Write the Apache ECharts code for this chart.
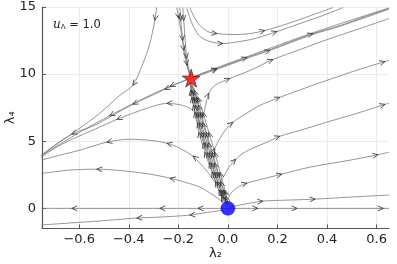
<!DOCTYPE html>
<html><head><meta charset="utf-8">
<script src="https://cdn.jsdelivr.net/npm/echarts@6/dist/echarts.min.js"></script>
<style>html,body{margin:0;padding:0;background:#fff}#c{width:397px;height:264px}</style>
</head><body><div id="c"></div>
<script>
// ---- axis ticks ----
const xTicks = [-0.6, -0.4, -0.2, 0, 0.2, 0.4, 0.6];
const yTicks = [0, 5, 10, 15];
// ---- fixed points ----
const saddle = [-0.148, 9.7];
const source = [0, 0];
// ---- streamlines (points in flow order) and arrow positions (point indices) ----
const lineA = [[-0.287,14.96],[-0.295,14.0],[-0.315,12.27],[-0.343,10.79],[-0.384,9.16],[-0.436,8.42],[-0.517,7.08],[-0.610,5.81],[-0.679,4.93],[-0.752,3.96]];
const arrA = [1, 4];
const lineB1 = [[-0.15,9.7],[-0.202,9.31],[-0.255,8.86],[-0.315,8.34],[-0.384,7.75],[-0.457,7.01],[-0.537,6.19],[-0.630,5.52],[-0.699,4.70],[-0.752,3.96]];
const arrB1 = [2, 4, 7];
const lineB2 = [[-0.15,9.68],[-0.234,9.09],[-0.356,8.05],[-0.477,6.90],[-0.598,5.67],[-0.752,3.93]];
const arrB2 = [1, 3];
const lineL3 = [[-0.113,6.41],[-0.141,7.30],[-0.182,7.67],[-0.246,7.82],[-0.315,7.53],[-0.384,7.08],[-0.448,6.63],[-0.537,5.89],[-0.638,5.07],[-0.699,4.48],[-0.752,3.81]];
const arrL3 = [3, 6];
const lineL2 = [[-0.044,1.73],[-0.081,2.70],[-0.113,3.37],[-0.141,3.89],[-0.194,4.48],[-0.246,4.85],[-0.315,5.07],[-0.396,5.15],[-0.489,4.93],[-0.598,4.33],[-0.679,3.96],[-0.752,3.59]];
const arrL2 = [3, 5, 8];
const lineL1 = [[-0.016,0.39],[-0.053,0.91],[-0.113,1.58],[-0.174,1.95],[-0.234,2.25],[-0.315,2.55],[-0.408,2.77],[-0.529,2.92],[-0.638,2.85],[-0.752,2.60]];
const arrL1 = [4, 7];
const lineL0 = [[0,0],[-0.06,0],[-0.121,0],[-0.2,0],[-0.275,0],[-0.4,0],[-0.5,0],[-0.63,0],[-0.752,0]];
const arrL0 = [2, 4, 7];
const lineLb = [[-0.016,-0.13],[-0.073,-0.27],[-0.154,-0.50],[-0.275,-0.65],[-0.368,-0.72],[-0.517,-0.94],[-0.638,-1.09],[-0.752,-1.24]];
const arrLb = [2, 4];
const lineR0 = [[0,0],[0.06,0],[0.121,0],[0.2,0],[0.279,0],[0.4,0],[0.5,0],[0.627,0],[0.65,0]];
const arrR0 = [2, 4, 7];
const lineR1 = [[0.008,0.10],[0.069,0.32],[0.141,0.54],[0.251,0.62],[0.352,0.69],[0.493,0.84],[0.65,0.99]];
const arrR1 = [2, 4];
const lineR2 = [[0,0.69],[0.016,1.21],[0.048,1.66],[0.077,1.88],[0.170,2.33],[0.218,2.55],[0.331,3.07],[0.493,3.59],[0.606,4.0],[0.65,4.18]];
const arrR2 = [3, 5, 8];
const lineR3 = [[-0.036,1.81],[-0.016,2.40],[0.004,3.07],[0.032,3.66],[0.061,4.11],[0.109,4.55],[0.158,4.93],[0.210,5.37],[0.291,5.81],[0.412,6.49],[0.533,7.15],[0.634,7.75],[0.65,7.82]];
const arrR3 = [3, 7, 11];
const lineR4 = [[-0.073,3.59],[-0.053,4.48],[-0.032,5.22],[-0.008,5.89],[0.020,6.41],[0.069,7.01],[0.129,7.67],[0.210,8.27],[0.331,9.09],[0.505,10.20],[0.634,10.94],[0.65,11.02]];
const arrR4 = [1, 4, 7, 10];
const lineR5 = [[-0.101,6.71],[-0.089,7.75],[-0.077,8.57],[-0.053,9.16],[0.008,9.68],[0.089,10.27],[0.182,11.09],[0.291,11.83],[0.412,12.65],[0.533,13.40],[0.65,14.14]];
const arrR5 = [2, 4, 6];
const lineD1 = [[-0.15,9.7],[-0.113,9.98],[-0.044,10.42],[0.077,11.24],[0.170,11.83],[0.343,13.02],[0.453,13.62],[0.554,14.29],[0.65,14.88]];
const arrD1 = [2, 3, 5];
const lineD2 = [[-0.15,9.68],[-0.113,9.92],[-0.044,10.36],[0.077,11.18],[0.170,11.77],[0.343,12.96],[0.453,13.57],[0.65,14.84]];
const arrD2 = [2, 4];
const lineD3 = [[-0.15,9.72],[-0.044,10.48],[0.077,11.30],[0.343,13.08],[0.65,14.93]];
const arrD3 = [];
const lineU1 = [[-0.154,14.96],[-0.137,14.29],[-0.113,13.62],[-0.081,13.17],[-0.044,13.02],[0.020,12.95],[0.089,13.02],[0.149,13.25],[0.230,13.69],[0.311,14.21],[0.424,14.96]];
const arrU1 = [4, 7];
const lineU2 = [[-0.166,14.96],[-0.154,14.21],[-0.137,13.47],[-0.113,12.80],[-0.073,12.43],[-0.020,12.28],[0.048,12.43],[0.109,12.65],[0.198,13.17],[0.291,13.77],[0.372,14.29],[0.465,14.96]];
const arrU2 = [5, 8];
const lineT1 = [[-0.206,14.96],[-0.198,14.14],[-0.186,12.88],[-0.178,11.76],[-0.166,10.65],[-0.15,9.75]];
const arrT1 = [1, 3];
const lineT2 = [[-0.194,14.96],[-0.190,13.99],[-0.182,12.50],[-0.174,11.76],[-0.164,10.65],[-0.15,9.75]];
const arrT2 = [1, 2, 4];
const lineT3 = [[-0.182,14.96],[-0.178,13.99],[-0.172,12.50],[-0.166,11.17],[-0.15,9.8]];
const arrT3 = [1, 3];
const lineC1 = [[-0.006,0.39],[-0.036,1.36],[-0.064,2.70],[-0.093,4.18],[-0.117,5.67],[-0.133,7.15],[-0.145,8.27],[-0.152,9.4]];
const lineC2 = [[-0.005,0.39],[-0.030,1.36],[-0.056,2.70],[-0.083,4.18],[-0.107,5.67],[-0.125,7.15],[-0.139,8.27],[-0.151,9.35]];
const lineC3 = [[-0.004,0.39],[-0.024,1.36],[-0.048,2.70],[-0.073,4.18],[-0.097,5.67],[-0.117,7.15],[-0.133,8.27],[-0.150,9.31]];
const lineC4 = [[-0.002,0.39],[-0.018,1.36],[-0.040,2.70],[-0.063,4.18],[-0.087,5.67],[-0.109,7.15],[-0.127,8.27],[-0.148,9.3]];
const lineC5 = [[0,0.39],[-0.012,1.36],[-0.032,2.70],[-0.053,4.18],[-0.077,5.67],[-0.101,7.15],[-0.121,8.27],[-0.146,9.25]];
const arrC = [1, 2, 3, 4, 5, 6];
const lineC6 = [[-0.003,0.3],[-0.020,0.9],[-0.041,2.0],[-0.066,3.4],[-0.091,4.9],[-0.113,6.4],[-0.131,7.7],[-0.146,8.8],[-0.151,9.4]];
const lineC7 = [[0,0.3],[-0.008,0.9],[-0.029,2.0],[-0.054,3.4],[-0.079,4.9],[-0.101,6.4],[-0.119,7.7],[-0.136,8.8],[-0.148,9.3]];
const lineC8 = [[-0.004,0.3],[-0.026,0.9],[-0.049,2.0],[-0.074,3.4],[-0.099,4.9],[-0.121,6.4],[-0.139,7.7],[-0.150,8.8],[-0.152,9.45]];
const arrC2 = [1, 2, 3, 4, 5, 6, 7];

const streams = [
  [lineA, arrA], [lineB1, arrB1], [lineB2, arrB2], [lineL3, arrL3], [lineL2, arrL2],
  [lineL1, arrL1], [lineL0, arrL0], [lineLb, arrLb], [lineR0, arrR0], [lineR1, arrR1],
  [lineR2, arrR2], [lineR3, arrR3], [lineR4, arrR4], [lineR5, arrR5], [lineD1, arrD1],
  [lineD2, arrD2], [lineD3, arrD3], [lineU1, arrU1], [lineU2, arrU2], [lineT1, arrT1],
  [lineT2, arrT2], [lineT3, arrT3], [lineC1, arrC], [lineC2, arrC], [lineC3, arrC],
  [lineC4, arrC], [lineC5, arrC], [lineC6, arrC2], [lineC7, arrC2], [lineC8, arrC2]
];

const arrowData = [];
streams.forEach(([pts, idx]) => {
  idx.forEach(i => {
    const a = pts[Math.max(i - 1, 0)], b = pts[Math.min(i + 1, pts.length - 1)];
    arrowData.push([pts[i][0], pts[i][1], a[0], a[1], b[0], b[1]]);
  });
});

const chart = echarts.init(document.getElementById('c'), null, {renderer: 'canvas'});
const axisColor = '#555';
const fmtX = v => (v < 0 ? '\u2212' : '') + Math.abs(v).toFixed(1);

const series = streams.map(([pts]) => ({
  type: 'line', data: pts, smooth: 0.3, symbol: 'none', silent: true,
  lineStyle: {color: '#7a7a7a', width: 0.8}, z: 2
}));
series.push({
  type: 'custom', data: arrowData, encode: {x: 0, y: 1}, z: 3, silent: true,
  renderItem: (params, api) => {
    const p = api.coord([api.value(0), api.value(1)]);
    const a = api.coord([api.value(2), api.value(3)]);
    const b = api.coord([api.value(4), api.value(5)]);
    const ang = Math.atan2(b[1] - a[1], b[0] - a[0]);
    const L = 6, th = 0.42;
    return {
      type: 'polyline',
      shape: {points: [
        [p[0] - L * Math.cos(ang - th), p[1] - L * Math.sin(ang - th)],
        [p[0], p[1]],
        [p[0] - L * Math.cos(ang + th), p[1] - L * Math.sin(ang + th)]
      ]},
      style: {stroke: '#2a2a2a', fill: null, lineWidth: 0.8}
    };
  }
});
series.push({
  type: 'scatter', data: [saddle], z: 5, silent: true,
  symbol: 'path://M50,0 L61,35 L98,35 L68,57 L79,91 L50,70 L21,91 L32,57 L2,35 L39,35 Z',
  symbolSize: 18, itemStyle: {color: '#ff0000', borderColor: '#222', borderWidth: 0.8}
});
series.push({
  type: 'scatter', data: [source], z: 5, silent: true,
  symbol: 'circle', symbolSize: 14, itemStyle: {color: '#0000ff', borderColor: '#0000cc', borderWidth: 0.5}
});

chart.setOption({
  animation: false,
  grid: {left: 42, right: 8, top: 7, bottom: 35.5, containLabel: false, outerBoundsMode: 'none'},
  xAxis: {
    type: 'value', min: -0.75, max: 0.65,
    axisLine: {show: true, onZero: false, lineStyle: {color: axisColor, width: 1.2}},
    axisTick: {show: true, inside: true, length: 4, customValues: xTicks, lineStyle: {color: axisColor}},
    axisLabel: {customValues: xTicks, formatter: fmtX, fontSize: 13, color: '#222', margin: 5, fontFamily: 'DejaVu Sans'},
    splitLine: {show: true, lineStyle: {color: '#ebebeb', width: 1}},
    name: 'λ₂', nameLocation: 'middle', nameGap: 19, nameMoveOverlap: false,
    nameTextStyle: {fontSize: 13, color: '#222', fontFamily: 'DejaVu Sans'}
  },
  yAxis: {
    type: 'value', min: -1.5, max: 15,
    axisLine: {show: true, onZero: false, lineStyle: {color: axisColor, width: 1.2}},
    axisTick: {show: true, inside: true, length: 4, customValues: yTicks, lineStyle: {color: axisColor}},
    axisLabel: {customValues: yTicks, fontSize: 13, color: '#222', margin: 6, fontFamily: 'DejaVu Sans'},
    splitLine: {show: true, lineStyle: {color: '#ebebeb', width: 1}},
    name: 'λ₄', nameLocation: 'middle', nameGap: 25, nameMoveOverlap: false,
    nameTextStyle: {fontSize: 13, color: '#222', fontFamily: 'DejaVu Sans'}
  },
  graphic: [{
    type: 'text', left: 53, top: 19, z: 10,
    style: {
      text: '{u|u}{s|Λ}{e| = 1.0}',
      rich: {
        u: {fontSize: 12, fontStyle: 'italic', fontFamily: 'DejaVu Serif', fill: '#222'},
        s: {fontSize: 7, fontFamily: 'DejaVu Sans', fill: '#222', padding: [5, 0, 0, 0]},
        e: {fontSize: 11.5, fontFamily: 'DejaVu Sans', fill: '#222'}
      }
    }
  }],
  series
});
</script></body></html>
